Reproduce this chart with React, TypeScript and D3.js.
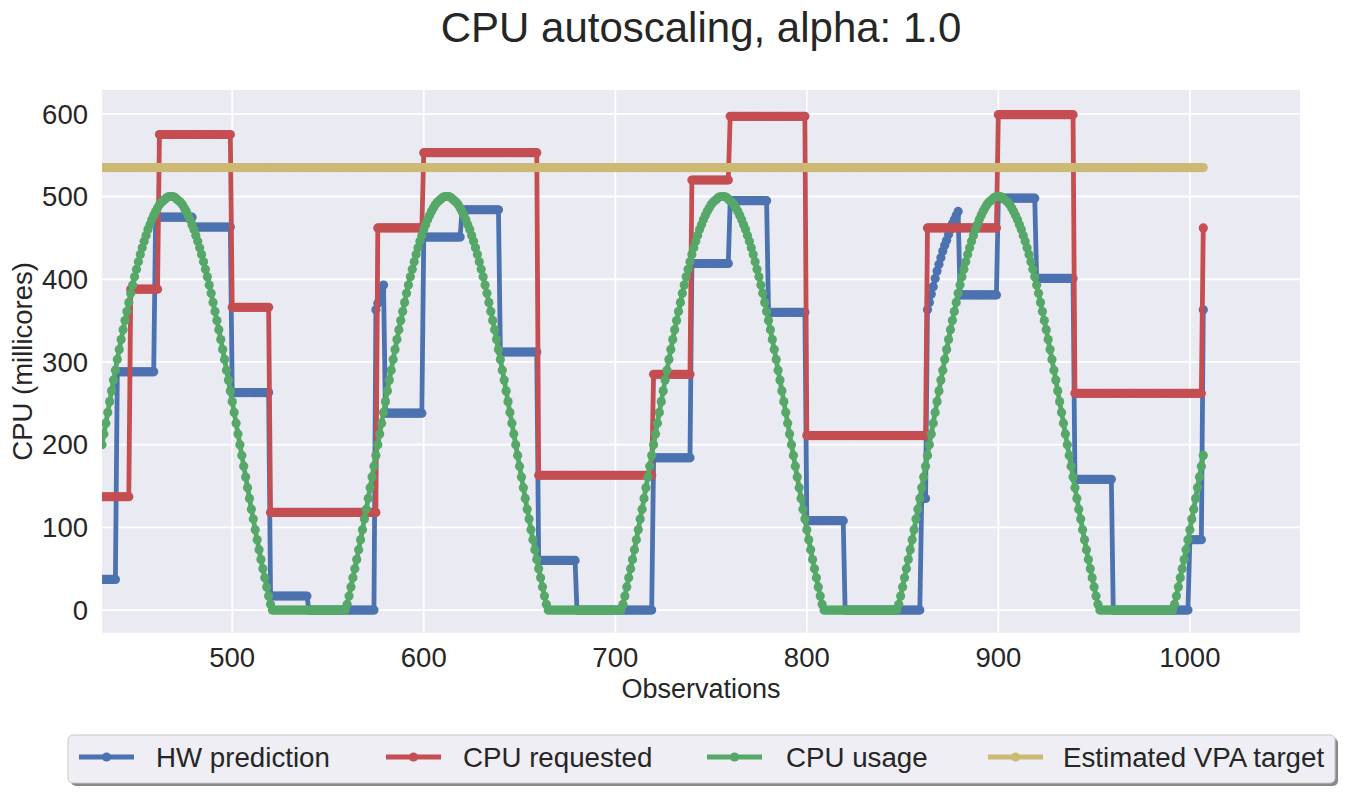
import React from 'react';
import * as d3 from 'd3';

// ---------- data ----------
const obsStart = 432;
const obsEnd = 1007;

// CPU usage, one value per observation (432 .. 1007)
const cpuUsage = [
  200,213,226,239,252,265,278,290,303,315,327,339,350,361,372,383,393,403,412,421,430,438,446,453,460,466,472,477,482,486,490,493,495,497,499,500,500,500,499,497,495,493,490,486,482,477,472,466,460,453,446,438,430,421,412,403,393,383,372,361,350,339,327,315,303,290,278,265,252,239,226,213,200,187,174,161,148,135,122,110,97,85,73,61,50,39,28,17,7,
  0,0,0,0,0,0,0,0,0,0,
  0,0,0,0,0,0,0,0,0,0,
  0,0,0,0,0,0,0,0,0,0,
  0,0,0,0,0,0,0,0,0,
  7,17,28,39,50,61,73,85,97,110,122,135,148,161,174,187,
  200,213,226,239,252,265,278,290,303,315,327,339,350,361,372,383,393,403,412,421,430,438,446,453,460,466,472,477,482,486,490,493,495,497,499,500,500,500,499,497,495,493,490,486,482,477,472,466,460,453,446,438,430,421,412,403,393,383,372,361,350,339,327,315,303,290,278,265,252,239,226,213,200,187,174,161,148,135,122,110,97,85,73,61,50,39,28,17,7,
  0,0,0,0,0,0,0,0,0,0,
  0,0,0,0,0,0,0,0,0,0,
  0,0,0,0,0,0,0,0,0,0,
  0,0,0,0,0,0,0,0,0,
  7,17,28,39,50,61,73,85,97,110,122,135,148,161,174,187,
  200,213,226,239,252,265,278,290,303,315,327,339,350,361,372,383,393,403,412,421,430,438,446,453,460,466,472,477,482,486,490,493,495,497,499,500,500,500,499,497,495,493,490,486,482,477,472,466,460,453,446,438,430,421,412,403,393,383,372,361,350,339,327,315,303,290,278,265,252,239,226,213,200,187,174,161,148,135,122,110,97,85,73,61,50,39,28,17,7,
  0,0,0,0,0,0,0,0,0,0,
  0,0,0,0,0,0,0,0,0,0,
  0,0,0,0,0,0,0,0,0,0,
  0,0,0,0,0,0,0,0,0,
  7,17,28,39,50,61,73,85,97,110,122,135,148,161,174,187,
  200,213,226,239,252,265,278,290,303,315,327,339,350,361,372,383,393,403,412,421,430,438,446,453,460,466,472,477,482,486,490,493,495,497,499,500,500,500,499,497,495,493,490,486,482,477,472,466,460,453,446,438,430,421,412,403,393,383,372,361,350,339,327,315,303,290,278,265,252,239,226,213,200,187,174,161,148,135,122,110,97,85,73,61,50,39,28,17,7,
  0,0,0,0,0,0,0,0,0,0,
  0,0,0,0,0,0,0,0,0,0,
  0,0,0,0,0,0,0,0,0,0,
  0,0,0,0,0,0,0,0,0,
  7,17,28,39,50,61,73,85,97,110,122,135,148,161,174,187,
];

// HW prediction: observation where each level starts, and its value
const hwStarts = [432, 440, 460, 480, 500, 520, 540, 575, 576, 577, 578, 579, 580, 600, 620, 640, 660, 680, 720, 740, 760, 780, 800, 820, 860, 863, 864, 865, 866, 867, 868, 869, 870, 871, 872, 873, 874, 875, 876, 877, 878, 879, 880, 900, 920, 940, 960, 1000, 1007];
const hwValues = [37, 288, 475, 463, 263, 17, 0, 363, 371, 378, 386, 393, 238, 451, 484, 312, 60, 0, 184, 419, 495, 360, 108, 0, 135, 363, 372, 382, 391, 401, 410, 418, 426, 434, 441, 447, 454, 460, 467, 472, 477, 482, 381, 498, 401, 158, 0, 85, 363];

// CPU requested
const reqStarts = [432, 447, 462, 500, 520, 576, 600, 660, 720, 740, 760, 800, 863, 900, 940, 1007];
const reqValues = [137, 388, 575, 366, 118, 462, 553, 163, 285, 520, 597, 211, 462, 599, 262, 462];

// Estimated VPA target
const vpaTarget = 535;

const xTicks = [500, 600, 700, 800, 900, 1000];
const yTicks = [0, 100, 200, 300, 400, 500, 600];
const seriesNames = ['HW prediction', 'CPU requested', 'CPU usage', 'Estimated VPA target'];
const seriesColors = ['#4C72B0', '#C44E52', '#55A868', '#CCB974'];

type Pt = { t: number; v: number };

function expandRuns(starts: number[], values: number[], end: number): Pt[] {
  const out: Pt[] = [];
  starts.forEach((s, i) => {
    const e = i + 1 < starts.length ? starts[i + 1] - 1 : end;
    for (let t = s; t <= e; t++) out.push({ t, v: values[i] });
  });
  return out;
}

const W = 1345;
const H = 793;
const left = 102;
const right = 1300;
const top = 90;
const bottom = 632.7;

export default function App() {
  const x = d3.scaleLinear().domain([432, 1057.5]).range([left, right]);
  const y = d3.scaleLinear().domain([-27.4, 628.8]).range([bottom, top]);

  const hw = expandRuns(hwStarts, hwValues, obsEnd);
  const req = expandRuns(reqStarts, reqValues, obsEnd);
  const usage: Pt[] = cpuUsage.map((v, i) => ({ t: obsStart + i, v }));
  const vpa = expandRuns([obsStart], [vpaTarget], obsEnd);
  const series = [hw, req, usage, vpa];

  const line = d3.line<Pt>().x((d) => x(d.t)).y((d) => y(d.v));

  const font = '"Liberation Sans", Arial, sans-serif';
  const textColor = '#262626';

  const legendHandleX = [79, 386, 707, 988];
  const legendTextX = [156, 463, 786, 1063];
  const legendY = 757;
  const lw = 4.8;
  const mr = 4.6;

  return (
    <svg width={W} height={H} style={{ position: 'absolute', left: 0, top: 0, background: '#fff' }} fontFamily={font}>
      <defs>
        <clipPath id="plotclip">
          <rect x={left} y={top} width={right - left} height={bottom - top} />
        </clipPath>
      </defs>
      <text x={(left + right) / 2} y={42} textAnchor="middle" fontSize={42} fill={textColor}>
        CPU autoscaling, alpha: 1.0
      </text>
      <rect x={left} y={top} width={right - left} height={bottom - top} fill="#EAEAF2" />
      {xTicks.map((t) => (
        <line key={'gx' + t} x1={x(t)} x2={x(t)} y1={top} y2={bottom} stroke="#fff" strokeWidth={1.8} />
      ))}
      {yTicks.map((t) => (
        <line key={'gy' + t} x1={left} x2={right} y1={y(t)} y2={y(t)} stroke="#fff" strokeWidth={1.8} />
      ))}
      <g clipPath="url(#plotclip)">
        {series.map((pts, i) => (
          <g key={'s' + i}>
            <path d={line(pts) || ''} fill="none" stroke={seriesColors[i]} strokeWidth={lw} strokeLinejoin="round" strokeLinecap="butt" />
            {pts.map((p, j) => (
              <circle key={j} cx={x(p.t)} cy={y(p.v)} r={mr} fill={seriesColors[i]} />
            ))}
          </g>
        ))}
      </g>
      {xTicks.map((t) => (
        <text key={'tx' + t} x={x(t)} y={667} textAnchor="middle" fontSize={27.5} fill={textColor}>
          {t}
        </text>
      ))}
      {yTicks.map((t) => (
        <text key={'ty' + t} x={88} y={y(t) + 9.8} textAnchor="end" fontSize={27.5} fill={textColor}>
          {t}
        </text>
      ))}
      <text x={(left + right) / 2} y={698} textAnchor="middle" fontSize={27} fill={textColor}>
        Observations
      </text>
      <text transform={`translate(32,${(top + bottom) / 2}) rotate(-90)`} textAnchor="middle" fontSize={27.5} fill={textColor}>
        CPU (millicores)
      </text>
      {/* legend */}
      <rect x={71} y={738} width={1267} height={48} rx={5} fill="#8a8a8a" />
      <rect x={68} y={735} width={1267} height={48} rx={5} fill="#EEEEF4" stroke="#c8c8c8" strokeWidth={1} />
      {seriesNames.map((n, i) => (
        <g key={'lg' + i}>
          <line x1={legendHandleX[i]} x2={legendHandleX[i] + 55} y1={legendY} y2={legendY} stroke={seriesColors[i]} strokeWidth={lw} />
          <circle cx={legendHandleX[i] + 27.5} cy={legendY} r={mr} fill={seriesColors[i]} />
          <text x={legendTextX[i]} y={legendY + 9.8} fontSize={27.7} fill={textColor}>
            {n}
          </text>
        </g>
      ))}
    </svg>
  );
}
